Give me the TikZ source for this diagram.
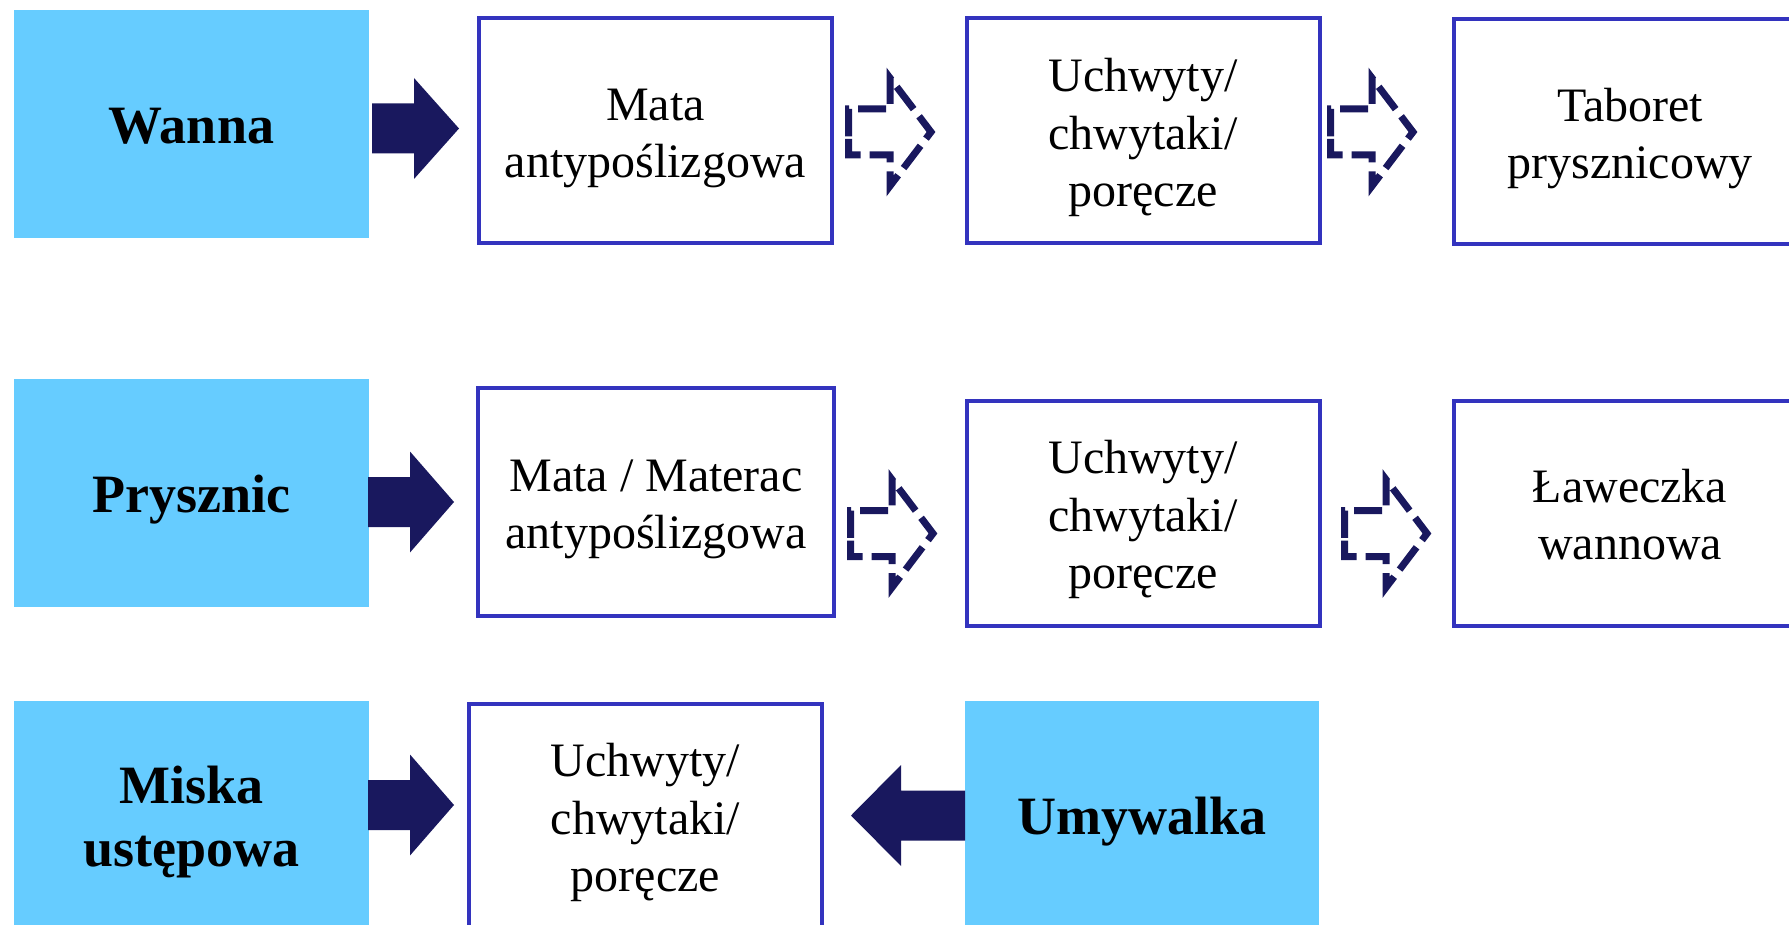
\documentclass[tikz,border=0pt]{standalone}
\usepackage{fontspec}
\setmainfont{Liberation Serif}
\definecolor{lightb}{HTML}{66CCFF}
\definecolor{bord}{RGB}{51,51,190}
\definecolor{navy}{RGB}{25,24,94}
% struts that fix every line's height and depth
\newcommand{\rs}{\rule[-5.3pt]{0pt}{28.7pt}}
\newcommand{\bst}{\rule[-5.8pt]{0pt}{31.5pt}}
% #1 start x, #2 head base x, #3 tip x, #4 centre y
\newcommand{\blkarrow}[4]{%
  \fill[solidarr] (#1,#4-25) -- (#2,#4-25) -- (#2,#4-50.5) -- (#3,#4) -- (#2,#4+50.5) -- (#2,#4+25) -- (#1,#4+25) -- cycle;}
\newcommand{\dsharrow}[4]{%
  \draw[dasharr] (#1,#4+7) -- (#1,#4+23) -- (#2,#4+23) -- (#2,#4+54) -- (#3,#4) -- (#2,#4-54) -- (#2,#4-23) -- (#1,#4-23) -- cycle;}
\begin{document}
\begin{tikzpicture}[x=0.5pt,y=-0.5pt,
  bluebox/.style={fill=lightb, minimum width=177.5pt, minimum height=114pt, inner sep=0pt, align=center, font=\fontsize{27}{31.5}\selectfont\bfseries},
  whitebox/.style={draw=bord, line width=2pt, fill=white, minimum width=176.5pt, minimum height=112.5pt, inner sep=0pt, align=center, font=\fontsize{24}{28.8}\selectfont},
  solidarr/.style={fill=navy},
  dasharr/.style={draw=navy, line width=3.5pt, miter limit=10, dash pattern=on 14pt off 4.5pt}]
\clip (0,0) rectangle (1789,925);
% left column and Umywalka
\node[bluebox] (wanna) at (191.5,124) {\bst Wanna};
\node[bluebox] (prysznic) at (191.5,493) {\bst Prysznic};
\node[bluebox] (miska) at (191.5,815) {\bst Miska\\\bst ustępowa};
\node[bluebox, minimum width=177pt] (umywalka) at (1142,815) {\bst Umywalka};
% row 1
\node[whitebox] (mata1) at (655.5,131) {\rs Mata\\\rs antypoślizgowa};
\node[whitebox] (uch1) at (1143,131) {\rs Uchwyty/\\\rs chwytaki/\\\rs poręcze};
\node[whitebox] (tab) at (1630,132) {\rs Taboret\\\rs prysznicowy};
% row 2
\node[whitebox, minimum width=178pt, minimum height=114pt] (mata2) at (656,502) {\rs Mata / Materac\\\rs antypoślizgowa};
\node[whitebox] (uch2) at (1143,513) {\rs Uchwyty/\\\rs chwytaki/\\\rs poręcze};
\node[whitebox] (law) at (1630,513) {\rs Ławeczka\\\rs wannowa};
% row 3
\node[whitebox] (uch3) at (645.5,816) {\rs Uchwyty/\\\rs chwytaki/\\\rs poręcze};
% solid arrows
\blkarrow{372}{414}{459}{128.5}
\blkarrow{368}{410}{454}{502}
\blkarrow{368}{410}{454}{805}
\blkarrow{965}{901}{851}{815.5}
% dashed arrows
\dsharrow{848.5}{890}{931}{132}
\dsharrow{1330.5}{1372}{1413}{132}
\dsharrow{850.5}{892}{933}{533.5}
\dsharrow{1344.5}{1386}{1427}{533.5}
\end{tikzpicture}
\end{document}
